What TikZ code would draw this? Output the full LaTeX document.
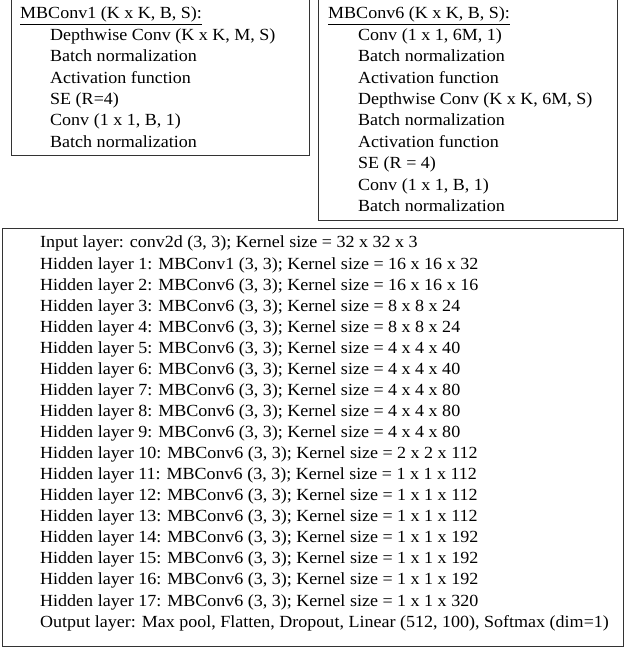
\documentclass[tikz,border=0pt]{standalone}
\usepackage{fontspec}
\setmainfont[FakeStretch=1.06]{Liberation Serif}
\begin{document}
\begin{tikzpicture}[x=1pt,y=1pt,
  box/.style={draw=black!80, line width=0.9pt},
  txt/.style={anchor=base west, inner sep=0pt, font=\fontsize{17}{20}\selectfont}]
\useasboundingbox (0,0) rectangle (628,650);
% box outlines (y = 650 - image y)
\draw[box] (11,651) rectangle (309,495);
\draw[box] (318,651) rectangle (617,430);
\draw[box] (2,422) rectangle (623,4);
% box 1
\node[txt] (a0) at (20,631) {MBConv1 (K x K, B, S):};
\draw[line width=0.7pt] (a0.base west) ++(0,-5) -- ([yshift=-5pt]a0.base east);
\foreach \t [count=\i] in {Depthwise Conv (K x K{,} M{,} S), Batch normalization, Activation function, SE (R=4), Conv (1 x 1{,} B{,} 1), Batch normalization}
  \node[txt] (a\i) at (50,631-21.4*\i) {\t};
% box 2
\node[txt] (b0) at (328,631) {MBConv6 (K x K, B, S):};
\draw[line width=0.7pt] (b0.base west) ++(0,-5) -- ([yshift=-5pt]b0.base east);
\foreach \t [count=\i] in {Conv (1 x 1{,} 6M{,} 1), Batch normalization, Activation function, Depthwise Conv (K x K{,} 6M{,} S), Batch normalization, Activation function, SE (R = 4), Conv (1 x 1{,} B{,} 1), Batch normalization}
  \node[txt] (b\i) at (358,631-21.4*\i) {\t};
% box 3
\node[txt] (c0) at (40,402) {Input layer: conv2d (3, 3); Kernel size = 32 x 32 x 3};
\foreach \t [count=\i] in {
 1: MBConv1 (3{,} 3); Kernel size = 16 x 16 x 32,
 2: MBConv6 (3{,} 3); Kernel size = 16 x 16 x 16,
 3: MBConv6 (3{,} 3); Kernel size = 8 x 8 x 24,
 4: MBConv6 (3{,} 3); Kernel size = 8 x 8 x 24,
 5: MBConv6 (3{,} 3); Kernel size = 4 x 4 x 40,
 6: MBConv6 (3{,} 3); Kernel size = 4 x 4 x 40,
 7: MBConv6 (3{,} 3); Kernel size = 4 x 4 x 80,
 8: MBConv6 (3{,} 3); Kernel size = 4 x 4 x 80,
 9: MBConv6 (3{,} 3); Kernel size = 4 x 4 x 80,
 10: MBConv6 (3{,} 3); Kernel size = 2 x 2 x 112,
 11: MBConv6 (3{,} 3); Kernel size = 1 x 1 x 112,
 12: MBConv6 (3{,} 3); Kernel size = 1 x 1 x 112,
 13: MBConv6 (3{,} 3); Kernel size = 1 x 1 x 112,
 14: MBConv6 (3{,} 3); Kernel size = 1 x 1 x 192,
 15: MBConv6 (3{,} 3); Kernel size = 1 x 1 x 192,
 16: MBConv6 (3{,} 3); Kernel size = 1 x 1 x 192,
 17: MBConv6 (3{,} 3); Kernel size = 1 x 1 x 320}
  \node[txt] (c\i) at (40,402-21.06*\i) {Hidden layer \t};
\node[txt] (c18) at (40,402-21.06*18) {Output layer: Max pool, Flatten, Dropout, Linear (512, 100), Softmax (dim=1)};
\end{tikzpicture}
\end{document}
